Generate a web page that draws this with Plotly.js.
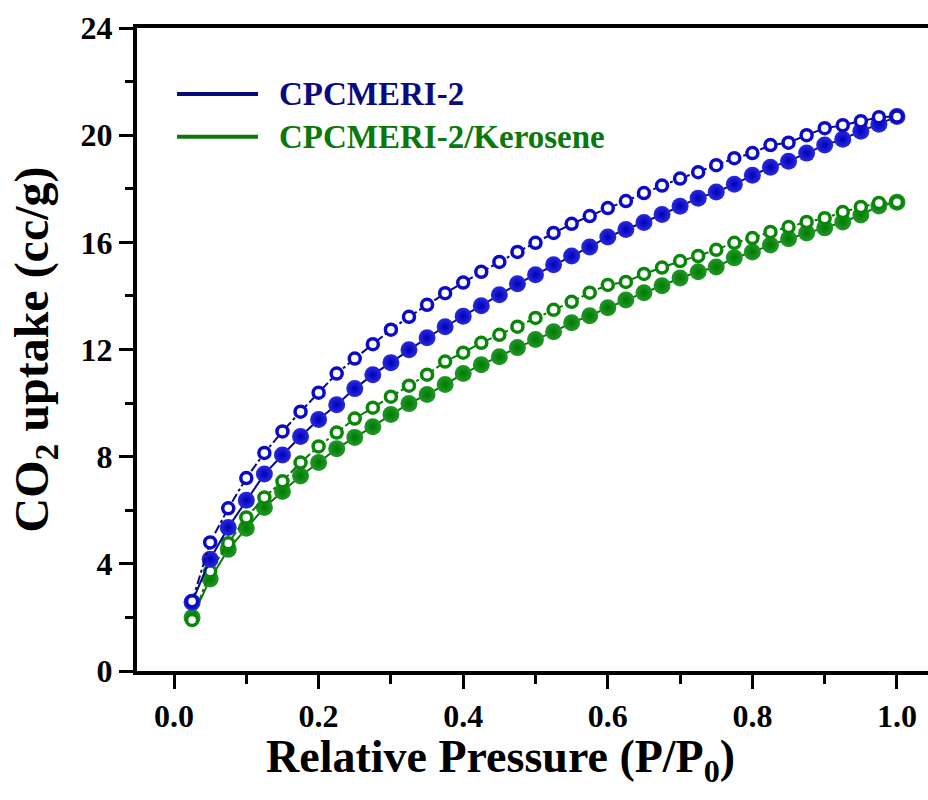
<!DOCTYPE html>
<html>
<head>
<meta charset="utf-8">
<script src="https://cdn.plot.ly/plotly-3.0.1.min.js"></script>
<style>html,body{margin:0;padding:0;background:#fff;}#chart{width:928px;height:800px;}</style>
</head>
<body>
<div id="chart"></div>
<script>
// Relative pressure (P/P0)
const pressure = [0.025,0.05,0.075,0.1,0.125,0.15,0.175,0.2,0.225,0.25,0.275,0.3,0.325,0.35,0.375,0.4,0.425,0.45,0.475,0.5,0.525,0.55,0.575,0.6,0.625,0.65,0.675,0.7,0.725,0.75,0.775,0.8,0.825,0.85,0.875,0.9,0.925,0.95,0.975,1.0];

// CPCMERI-2 adsorption (filled) and desorption (open), cc/g
const cpcAds = [2.57,4.17,5.36,6.37,7.35,8.06,8.75,9.39,9.94,10.54,11.06,11.51,11.99,12.44,12.85,13.24,13.63,14.04,14.45,14.79,15.16,15.49,15.83,16.2,16.48,16.74,17.04,17.35,17.65,17.88,18.17,18.5,18.8,19.03,19.33,19.63,19.85,20.15,20.41,20.7];
const cpcDes = [2.6,4.8,6.07,7.2,8.14,8.94,9.68,10.39,11.1,11.66,12.2,12.74,13.22,13.67,14.1,14.5,14.9,15.27,15.64,15.98,16.35,16.69,16.98,17.28,17.54,17.84,18.12,18.38,18.62,18.88,19.14,19.33,19.63,19.72,20.0,20.26,20.37,20.52,20.67,20.7];

// CPCMERI-2/Kerosene adsorption (filled) and desorption (open), cc/g
const kerAds = [2.0,3.43,4.54,5.33,6.1,6.7,7.28,7.78,8.3,8.72,9.12,9.57,9.98,10.32,10.69,11.1,11.43,11.73,12.07,12.37,12.66,13.0,13.26,13.56,13.85,14.12,14.38,14.67,14.9,15.08,15.42,15.64,15.9,16.13,16.35,16.54,16.76,17.02,17.36,17.5];
const kerDes = [1.9,3.72,4.77,5.73,6.48,7.08,7.78,8.38,8.9,9.42,9.83,10.24,10.65,11.06,11.55,11.88,12.25,12.55,12.85,13.18,13.48,13.78,14.12,14.41,14.52,14.82,15.06,15.3,15.49,15.72,15.98,16.16,16.39,16.57,16.76,16.9,17.13,17.32,17.47,17.5];

const seriesNames = ['CPCMERI-2','CPCMERI-2/Kerosene'];
const markerColors = ['#0000b8','#007a00'];
const markerCenters = ['#2a2ade','#22982a'];
const openColors = ['#0a0ac8','#0a870a'];
const lineColors = ['#0a0a80','#0a780a'];

const serif = 'Liberation Serif, Times New Roman, serif';

function ads(y, i){
  return {x: pressure, y: y, type:'scatter', mode:'lines+markers', name: seriesNames[i], showlegend:false,
    line:{color: lineColors[i], width:2},
    marker:{symbol:'circle', size:17, color: markerCenters[i], line:{width:0},
      gradient:{type:'radial', color: markerColors[i]}}};
}
function des(y, i){
  return {x: pressure, y: y, type:'scatter', mode:'lines+markers', name: seriesNames[i]+' desorption', showlegend:false,
    line:{color: lineColors[i], width:2, dash:'dashdot'},
    marker:{symbol:'circle', size:11, color:'#ffffff', line:{width:3.5, color: openColors[i]}}};
}

const data = [ads(kerAds,1), des(kerDes,1), ads(cpcAds,0), des(cpcDes,0)];

const axisCommon = {
  showline:true, linecolor:'#000', linewidth:4, showgrid:false, zeroline:false,
  ticks:'outside', ticklen:14, tickwidth:3, tickcolor:'#000',
  tickfont:{family:serif, size:32, color:'#000', weight:'bold'}
};

const layout = {
  width:928, height:800,
  margin:{l:137, r:0, t:28, b:129},
  paper_bgcolor:'#fff', plot_bgcolor:'#fff',
  showlegend:false,
  xaxis: Object.assign({}, axisCommon, {
    range:[-0.0512, 1.0429], tick0:0, dtick:0.2, tickformat:'.1f', mirror:true,
    minor:{dtick:0.1, tick0:0, ticks:'outside', ticklen:9, tickwidth:3, tickcolor:'#000'}
  }),
  yaxis: Object.assign({}, axisCommon, {
    range:[0,24], tick0:0, dtick:4,
    minor:{dtick:2, tick0:0, ticks:'outside', ticklen:8, tickwidth:3, tickcolor:'#000'},
    title:{text:'CO<sub>2</sub> uptake (cc/g)', font:{family:serif, size:48, color:'#000', weight:'bold'}, standoff:18}
  }),
  shapes:[
    {type:'line', xref:'paper', yref:'paper', x0:0.0506, x1:0.153, y0:0.8975, y1:0.8975, line:{color:lineColors[0], width:4}},
    {type:'line', xref:'paper', yref:'paper', x0:0.0506, x1:0.153, y0:0.8307, y1:0.8307, line:{color:lineColors[1], width:4}}
  ],
  annotations:[
    {xref:'paper', yref:'paper', x:0.177, y:0.8975, xanchor:'left', yanchor:'middle', showarrow:false,
     text:seriesNames[0], font:{family:serif, size:33, color:lineColors[0], weight:'bold'}},
    {xref:'paper', yref:'paper', x:0.177, y:0.8307, xanchor:'left', yanchor:'middle', showarrow:false,
     text:seriesNames[1], font:{family:serif, size:33, color:lineColors[1], weight:'bold'}},
    {xref:'paper', yref:'paper', x:0.46, y:-0.09, xanchor:'center', yanchor:'top', showarrow:false,
     text:'Relative Pressure (P/P<sub>0</sub>)', font:{family:serif, size:46, color:'#000', weight:'bold'}}
  ]
};

Plotly.newPlot('chart', data, layout, {displayModeBar:false, staticPlot:true});
</script>
</body>
</html>
